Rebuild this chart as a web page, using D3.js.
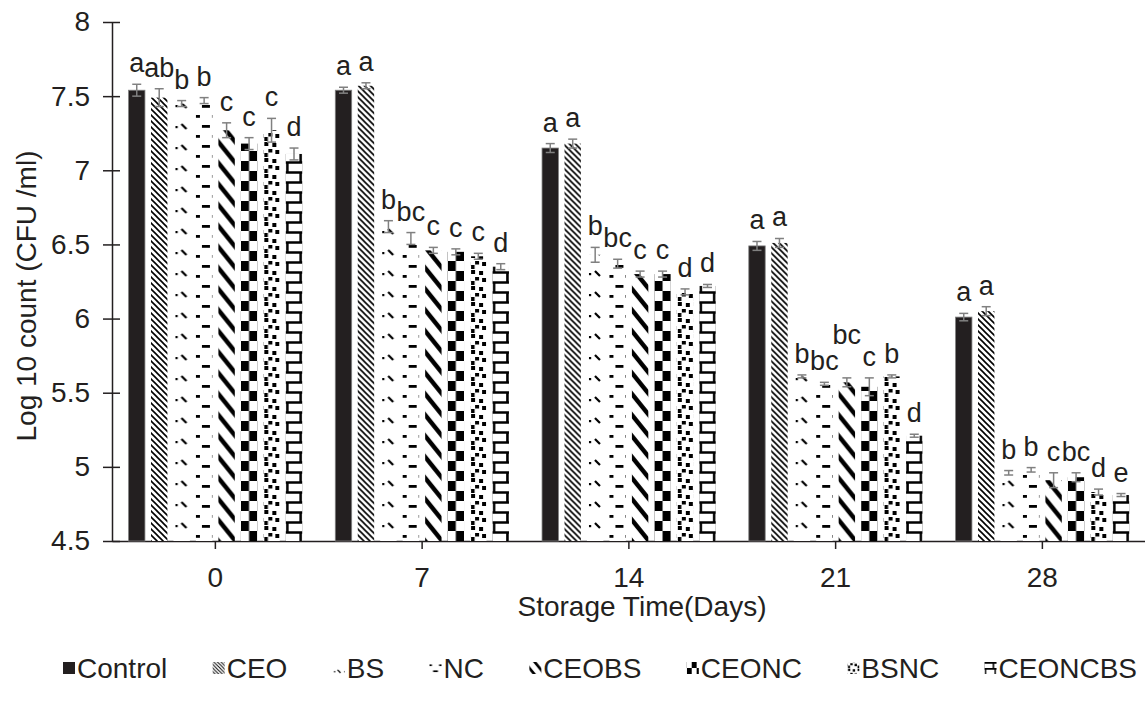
<!DOCTYPE html>
<html>
<head>
<meta charset="utf-8">
<script src="https://cdn.jsdelivr.net/npm/d3@7"></script>
<style>
  body { margin: 0; background: #fff; }
  svg { display: block; }
  text { font-family: "Liberation Sans", Arial, sans-serif; fill: #231f20; }
</style>
</head>
<body>
<svg id="chart" width="1145" height="715"></svg>
<script>
// Storage days (x categories) and treatments (series)
const days = ["0", "7", "14", "21", "28"];
const treatments = ["Control", "CEO", "BS", "NC", "CEOBS", "CEONC", "BSNC", "CEONCBS"];

// Mean log10 counts per treatment, one value per storage day
const controlMeans = [7.54, 7.54, 7.15, 6.49, 6.01];
const ceoMeans     = [7.49, 7.57, 7.18, 6.51, 6.05];
const bsMeans      = [7.45, 6.62, 6.43, 5.61, 4.96];
const ncMeans      = [7.47, 6.54, 6.37, 5.56, 4.98];
const ceobsMeans   = [7.27, 6.46, 6.30, 5.57, 4.91];
const ceoncMeans   = [7.18, 6.45, 6.30, 5.54, 4.93];
const bsncMeans    = [7.27, 6.42, 6.18, 5.61, 4.83];
const ceoncbsMeans = [7.11, 6.35, 6.22, 5.21, 4.81];

// Standard errors
const controlErr = [0.04, 0.02, 0.03, 0.03, 0.025];
const ceoErr     = [0.06, 0.02, 0.03, 0.03, 0.03];
const bsErr      = [0.02, 0.04, 0.05, 0.01, 0.015];
const ncErr      = [0.02, 0.04, 0.03, 0.01, 0.015];
const ceobsErr   = [0.05, 0.02, 0.02, 0.03, 0.05];
const ceoncErr   = [0.04, 0.02, 0.02, 0.06, 0.03];
const bsncErr    = [0.08, 0.02, 0.02, 0.01, 0.02];
const ceoncbsErr = [0.04, 0.02, 0.01, 0.01, 0.01];

// Significance letters
const controlLetters = ["a", "a", "a", "a", "a"];
const ceoLetters     = ["ab", "a", "a", "a", "a"];
const bsLetters      = ["b", "b", "b", "b", "b"];
const ncLetters      = ["b", "bc", "bc", "bc", "b"];
const ceobsLetters   = ["c", "c", "c", "bc", "c"];
const ceoncLetters   = ["c", "c", "c", "c", "bc"];
const bsncLetters    = ["c", "c", "d", "b", "d"];
const ceoncbsLetters = ["d", "d", "d", "d", "e"];

const yTicks = [4.5, 5, 5.5, 6, 6.5, 7, 7.5, 8];

const means = [controlMeans, ceoMeans, bsMeans, ncMeans, ceobsMeans, ceoncMeans, bsncMeans, ceoncbsMeans];
const errs = [controlErr, ceoErr, bsErr, ncErr, ceobsErr, ceoncErr, bsncErr, ceoncbsErr];
const letters = [controlLetters, ceoLetters, bsLetters, ncLetters, ceobsLetters, ceoncLetters, bsncLetters, ceoncbsLetters];

const svg = d3.select("#chart");
const ink = "#231f20";
const errColor = "#808080";
const fontSize = 28;

const plot = { left: 112, right: 1145.75, top: 22, bottom: 541 };

const x0 = d3.scaleBand().domain(days).range([plot.left, plot.right])
  .paddingInner(0.16).paddingOuter(0.08);
const x1 = d3.scaleBand().domain(treatments).range([0, x0.bandwidth()]).paddingInner(0.27);
const y = d3.scaleLinear().domain([4.5, 8]).range([plot.bottom, plot.top]);
const bw = x1.bandwidth();

// ---- fill patterns ----
const defs = svg.append("defs");
function makePattern(id, w, h, draw, scale) {
  const p = defs.append("pattern").attr("id", id)
    .attr("patternUnits", "userSpaceOnUse")
    .attr("width", w).attr("height", h);
  if (scale) p.attr("patternTransform", `scale(${scale})`);
  p.append("rect").attr("width", w).attr("height", h).attr("fill", "#fff");
  draw(p);
}
const patternDefs = {
  CEO: [6, 6, p => {
    const s = 6;
    p.append("path").attr("d", `M-1,-1L${s + 1},${s + 1}M${s - 1},-1L${s + 1},1M-1,${s - 1}L1,${s + 1}`)
      .attr("stroke", "#000").attr("stroke-width", 1.6);
  }],
  BS: [17, 21, p => {
    p.append("path").attr("d", "M8,3L13,8").attr("stroke", "#000").attr("stroke-width", 2.2);
    p.append("rect").attr("x", 2).attr("y", 5).attr("width", 2.2).attr("height", 2.2).attr("fill", "#000");
  }],
  NC: [20, 20, p => {
    p.append("rect").attr("x", 6).attr("y", 4).attr("width", 8).attr("height", 2.8).attr("fill", "#000");
    p.append("rect").attr("x", 16).attr("y", 14).attr("width", 4).attr("height", 2.8).attr("fill", "#000");
    p.append("rect").attr("x", 0).attr("y", 14).attr("width", 4).attr("height", 2.8).attr("fill", "#000");
  }],
  CEOBS: [17, 21, p => {
    let d = "";
    [-17, 0, 17].forEach(o => { d += `M${o - 4.25},-5.25L${o + 21.25},26.25`; });
    p.append("path").attr("d", d).attr("stroke", "#000").attr("stroke-width", 4.5);
  }],
  CEONC: [bw, 20, p => {
    p.append("rect").attr("x", 0).attr("y", 0).attr("width", bw / 2).attr("height", 10).attr("fill", "#000");
    p.append("rect").attr("x", bw / 2).attr("y", 10).attr("width", bw / 2).attr("height", 10).attr("fill", "#000");
  }],
  BSNC: [16, 16, p => {
    [[1, 1, 4, 4], [9, 2, 4, 4], [5, 8, 4, 3.5], [12, 9, 4, 4], [1, 12, 3.5, 4]].forEach(r =>
      p.append("rect").attr("x", r[0]).attr("y", r[1]).attr("width", r[2]).attr("height", r[3]).attr("fill", "#000"));
  }],
  CEONCBS: [bw, 20, p => {
    const d = `M0,1.5H${bw}M1.5,1.5V11.5M0,11.5H${bw}M${bw - 1.5},11.5V20M${bw - 1.5},0V1.5`;
    p.append("path").attr("d", d).attr("stroke", "#000").attr("stroke-width", 2.6).attr("fill", "none");
  }]
};
Object.entries(patternDefs).forEach(([k, [w, h, draw]]) => {
  makePattern("pat-" + k, w, h, draw);
  makePattern("leg-" + k, w, h, draw, 0.6);
});
const fillFor = (name, legend) => name === "Control" ? ink : `url(#${legend ? "leg" : "pat"}-${name})`;

// ---- axes ----
const yAxis = svg.append("g").attr("transform", `translate(${plot.left},0)`)
  .call(d3.axisLeft(y).tickValues(yTicks).tickSizeInner(9).tickSizeOuter(0).tickPadding(13).tickFormat(d3.format("")));
yAxis.select(".domain").attr("stroke", ink).attr("stroke-width", 1.5);
yAxis.selectAll(".tick line").attr("x1", 8).attr("x2", -9).attr("stroke", ink).attr("stroke-width", 1.5);
yAxis.selectAll(".tick text").attr("font-size", fontSize).attr("fill", ink).attr("font-family", null);

const xAxis = svg.append("g").attr("transform", `translate(0,${plot.bottom})`)
  .call(d3.axisBottom(x0).tickSizeInner(8).tickSizeOuter(0));
xAxis.select(".domain").attr("stroke", ink).attr("stroke-width", 1.5);
xAxis.selectAll(".tick line").attr("stroke", ink).attr("stroke-width", 1.5);
xAxis.selectAll(".tick text").attr("font-size", fontSize).attr("fill", ink).attr("font-family", null)
  .attr("y", 46).attr("dy", 0);

// ---- bars ----
const groups = svg.append("g").selectAll("g.day").data(days).join("g")
  .attr("class", "day").attr("transform", d => `translate(${x0(d)},0)`);

const records = [];
days.forEach((day, di) => treatments.forEach((t, si) => {
  records.push({ day, di, t, si, v: means[si][di], e: errs[si][di], l: letters[si][di] });
}));

groups.each(function (day) {
  const g = d3.select(this);
  const rows = records.filter(r => r.day === day);
  // each bar lives in its own frame so the fill pattern starts at the bar's left edge
  const bars = g.selectAll("g.bar").data(rows).join("g").attr("class", "bar")
    .attr("transform", r => `translate(${x1(r.t)},${plot.bottom})`);
  bars.append("rect")
    .attr("x", 0).attr("width", bw)
    .attr("y", r => y(r.v) - plot.bottom)
    .attr("height", r => plot.bottom - y(r.v))
    .attr("fill", r => fillFor(r.t, false))
    .attr("stroke", r => r.t === "Control" ? errColor : "none")
    .attr("stroke-width", 0.8);

  // error bars
  const eb = g.selectAll("g.err").data(rows).join("g").attr("class", "err")
    .attr("stroke", errColor).attr("stroke-width", 1.5);
  eb.append("line").attr("x1", r => x1(r.t) + bw / 2).attr("x2", r => x1(r.t) + bw / 2)
    .attr("y1", r => y(r.v + r.e)).attr("y2", r => y(r.v - r.e));
  eb.append("line").attr("x1", r => x1(r.t) + bw / 2 - 4.5).attr("x2", r => x1(r.t) + bw / 2 + 4.5)
    .attr("y1", r => y(r.v + r.e)).attr("y2", r => y(r.v + r.e));
  eb.append("line").attr("x1", r => x1(r.t) + bw / 2 - 4.5).attr("x2", r => x1(r.t) + bw / 2 + 4.5)
    .attr("y1", r => y(r.v - r.e)).attr("y2", r => y(r.v - r.e));

  // significance letters, lifted above a neighbour when they would collide
  let prev = null;
  rows.forEach(r => {
    const cx = x1(r.t) + bw / 2;
    const t = g.append("text").attr("x", cx).attr("text-anchor", "middle").attr("font-size", 27).text(r.l);
    let base = y(r.v + r.e) - 12;
    t.attr("y", base);
    const bb = t.node().getBBox();
    if (prev) {
      const overlapX = Math.min(prev.x2, bb.x + bb.width) - Math.max(prev.x1, bb.x);
      const overlapY = Math.min(prev.y2, bb.y + bb.height) - Math.max(prev.y1, bb.y);
      if (overlapX > 3 && overlapY > 3) {
        base = prev.base - 26;
        t.attr("y", base);
      }
    }
    const b2 = t.node().getBBox();
    prev = { x1: b2.x, x2: b2.x + b2.width, y1: b2.y, y2: b2.y + b2.height, base };
  });
});

// ---- axis titles ----
svg.append("text").attr("transform", `translate(36,296) rotate(-90)`)
  .attr("text-anchor", "middle").attr("font-size", fontSize).text("Log 10 count (CFU /ml)");
svg.append("text").attr("x", 642).attr("y", 616)
  .attr("text-anchor", "middle").attr("font-size", fontSize).text("Storage Time(Days)");

// ---- legend ----
const legend = svg.append("g");
const items = legend.selectAll("g").data(treatments).join("g");
items.append("rect").attr("x", 0).attr("y", -6).attr("width", 12).attr("height", 12)
  .attr("fill", d => fillFor(d, true));
items.append("text").attr("x", 14).attr("y", 10).attr("font-size", fontSize).text(d => d);
const widths = items.nodes().map(n => n.getBBox().width);
const totalW = d3.sum(widths);
const startX = 63, endX = 1137;
const gap = (endX - startX - totalW) / (treatments.length - 1);
let cx = startX;
items.each(function (d, i) {
  d3.select(this).attr("transform", `translate(${cx},668)`);
  cx += widths[i] + gap;
});
</script>
</body>
</html>
